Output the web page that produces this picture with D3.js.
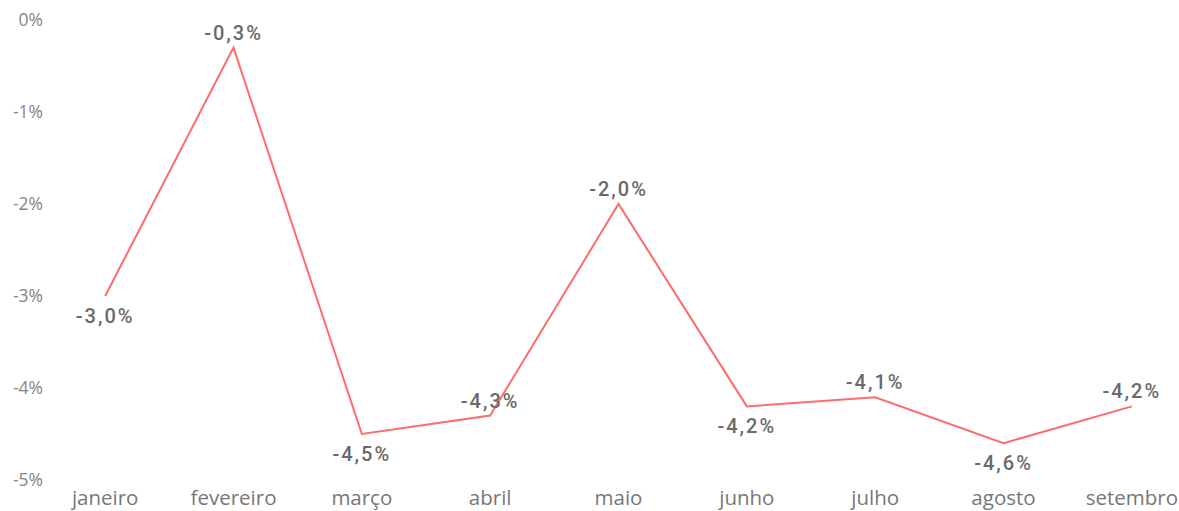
<!DOCTYPE html>
<html>
<head>
<meta charset="utf-8">
<script src="https://cdn.jsdelivr.net/npm/d3@7"></script>
<style>
  body { margin: 0; background: #fff; }
  svg { display: block; }
</style>
</head>
<body>
<div id="chart"></div>
<script>
'use strict';

// chart data
var months = ['janeiro', 'fevereiro', 'março', 'abril', 'maio', 'junho', 'julho', 'agosto', 'setembro'];
var values = [-3.0, -0.3, -4.5, -4.3, -2.0, -4.2, -4.1, -4.6, -4.2];
// label placement: 1 = above the point, -1 = below
var labelSide = [-1, 1, -1, 1, 1, -1, 1, -1, 1];
var yTicks = [0, -1, -2, -3, -4, -5];

var width = 1179;
var height = 511;

var svg = d3.select('#chart').append('svg')
  .attr('width', width)
  .attr('height', height);

var x = d3.scalePoint().domain(months).range([41, 1196]).padding(0.5);
var y = d3.scaleLinear().domain([0, -5]).range([20, 480]);

var fmt = function (v) { return v.toFixed(1).replace('.', ',') + '%'; };

// y axis labels
svg.append('g').selectAll('text.y-tick')
  .data(yTicks)
  .enter().append('text')
  .attr('class', 'y-tick')
  .attr('x', 43)
  .attr('y', function (d) { return y(d); })
  .attr('dy', '0.35em')
  .attr('text-anchor', 'end')
  .style('font-family', '"Open Sans", sans-serif')
  .style('font-size', '17.5px')
  .style('fill', '#858585')
  .text(function (d) { return d + '%'; });

// x axis labels
svg.append('g').selectAll('text.x-tick')
  .data(months)
  .enter().append('text')
  .attr('class', 'x-tick')
  .attr('x', function (d) { return x(d); })
  .attr('y', 498)
  .attr('dy', '0.35em')
  .attr('text-anchor', 'middle')
  .style('font-family', '"Open Sans", sans-serif')
  .style('font-size', '20.5px')
  .style('fill', '#777')
  .text(function (d) { return d; });

// line
var line = d3.line()
  .x(function (d, i) { return x(months[i]); })
  .y(function (d) { return y(d); });

svg.append('path')
  .datum(values)
  .attr('d', line)
  .style('fill', 'none')
  .style('stroke', '#fd6b6b')
  .style('stroke-width', 2);

// data labels
svg.append('g').selectAll('text.data-label')
  .data(values)
  .enter().append('text')
  .attr('class', 'data-label')
  .attr('x', function (d, i) { return x(months[i]); })
  .attr('y', function (d, i) { return y(d) + (labelSide[i] > 0 ? -15 : 20); })
  .attr('dy', '0.35em')
  .attr('text-anchor', 'middle')
  .style('font-family', 'Roboto, sans-serif')
  .style('font-size', '20px')
  .style('font-weight', 500)
  .style('letter-spacing', '2px')
  .style('fill', '#6a6a6a')
  .text(function (d) { return fmt(d); });
</script>
</body>
</html>
